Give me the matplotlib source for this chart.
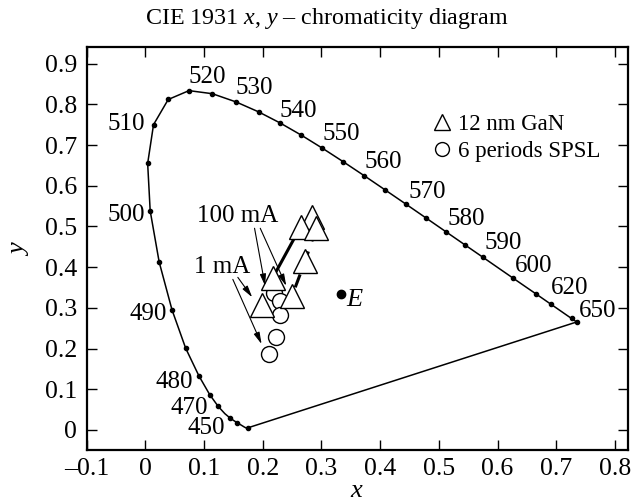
import matplotlib
matplotlib.use("Agg")
import matplotlib.pyplot as plt
from matplotlib.ticker import FuncFormatter, FixedLocator
from matplotlib.lines import Line2D

plt.rcParams['font.family'] = ['Liberation Serif', 'DejaVu Serif']
plt.rcParams['mathtext.fontset'] = 'custom'
plt.rcParams['mathtext.rm'] = 'Liberation Serif'
plt.rcParams['mathtext.it'] = 'Liberation Serif:italic'

# CIE 1931 spectral locus (wavelength nm, x, y)
locus_wl = [380, 400, 420, 430, 440, 445, 450, 455, 460, 465, 470, 475, 480, 485, 490, 495,
            500, 505, 510, 515, 520, 525, 530, 535, 540, 545, 550, 555, 560, 565, 570,
            575, 580, 585, 590, 595, 600, 605, 610, 615, 620, 625, 630, 640, 650, 660,
            680, 700]
locus_x = [0.1741, 0.1733, 0.1714, 0.1689, 0.1644, 0.1611, 0.1566, 0.1510, 0.1440, 0.1355,
           0.1241, 0.1096, 0.0913, 0.0687, 0.0454, 0.0235, 0.0082, 0.0039, 0.0139, 0.0389,
           0.0743, 0.1142, 0.1547, 0.1929, 0.2296, 0.2658, 0.3016, 0.3373, 0.3731, 0.4087,
           0.4441, 0.4788, 0.5125, 0.5448, 0.5752, 0.6029, 0.6270, 0.6482, 0.6658, 0.6801,
           0.6915, 0.7006, 0.7079, 0.7190, 0.7260, 0.7300, 0.7334, 0.7347]
locus_y = [0.0050, 0.0048, 0.0051, 0.0069, 0.0109, 0.0138, 0.0177, 0.0227, 0.0297, 0.0399,
           0.0578, 0.0868, 0.1327, 0.2007, 0.2950, 0.4127, 0.5384, 0.6548, 0.7502, 0.8120,
           0.8338, 0.8262, 0.8059, 0.7816, 0.7543, 0.7243, 0.6923, 0.6589, 0.6245, 0.5896,
           0.5547, 0.5202, 0.4866, 0.4544, 0.4242, 0.3965, 0.3725, 0.3514, 0.3340, 0.3197,
           0.3083, 0.2993, 0.2920, 0.2809, 0.2740, 0.2700, 0.2666, 0.2653]

dot_wl = [380, 450, 460, 470, 475, 480, 485, 490, 495, 500, 505, 510, 515, 520, 525, 530,
          535, 540, 545, 550, 555, 560, 565, 570, 575, 580, 585, 590, 600, 610, 620, 650, 700]

# wavelength labels and their positions
label_wl = ['520', '530', '540', '550', '560', '570', '580', '590', '600', '620', '650',
            '510', '500', '490', '480', '470', '450']
label_x = [0.106, 0.186, 0.261, 0.334, 0.406, 0.480, 0.547, 0.609, 0.661, 0.722, 0.770,
           -0.032, -0.032, 0.004, 0.049, 0.075, 0.104]
label_y = [0.867, 0.840, 0.784, 0.727, 0.658, 0.585, 0.518, 0.459, 0.403, 0.348, 0.292,
           0.752, 0.528, 0.284, 0.119, 0.055, 0.005]

# 12 nm GaN (triangles)
gan_x = [0.2845, 0.2645, 0.291, 0.2725, 0.217, 0.2497, 0.198]
gan_y = [0.523, 0.4995, 0.4955, 0.416, 0.374, 0.329, 0.307]
# 6 periods SPSL (circles)
spsl_x = [0.2184, 0.2287, 0.2287, 0.222, 0.210]
spsl_y = [0.337, 0.318, 0.2826, 0.228, 0.187]

# connecting lines
solid_x = [0.2645, 0.217]
solid_y = [0.4995, 0.374]
dash_x = [0.291, 0.2725, 0.2497]
dash_y = [0.4955, 0.416, 0.329]
dot_x = [0.2287, 0.222]
dot_y = [0.2826, 0.228]

E_x, E_y = 0.3333, 0.3333

fig = plt.figure(figsize=(6.42, 5.01), dpi=100)
ax = fig.add_axes([0.135, 0.102, 0.843, 0.805])

xs = dict(zip(locus_wl, locus_x))
ys = dict(zip(locus_wl, locus_y))
ax.plot(locus_x, locus_y, color='k', lw=1.1, zorder=2)
ax.plot([locus_x[-1], locus_x[0]], [locus_y[-1], locus_y[0]], color='k', lw=1.1, zorder=2)
ax.plot([xs[w] for w in dot_wl], [ys[w] for w in dot_wl], 'o', color='k', ms=3, zorder=3)

for t, x, y in zip(label_wl, label_x, label_y):
    ax.text(x, y, t, fontsize=18, ha='center', va='center')

ax.plot(solid_x, solid_y, color='k', lw=2.2, zorder=3)
ax.plot(dash_x, dash_y, color='k', lw=2.2, dashes=(4.5, 3.5), zorder=3)
ax.plot(dot_x, dot_y, color='k', lw=1.2, linestyle=(0, (1, 10)), zorder=3)

ax.plot(spsl_x, spsl_y, 'o', ms=11.5, mfc='white', mec='k', mew=1.0, ls='none', zorder=4)
ax.plot(gan_x, gan_y, '^', ms=17.5, mfc='white', mec='k', mew=1.0, ls='none', zorder=5)

ax.plot([E_x], [E_y], 'o', color='k', ms=6, zorder=5)
ax.text(E_x + 0.008, E_y - 0.015, '$E$', fontsize=19, ha='left', va='center')

ap = dict(arrowstyle='-|>,head_length=0.7,head_width=0.18', lw=0.8, color='k',
          shrinkA=0, shrinkB=0)
ax.text(0.157, 0.526, '100 mA', fontsize=18, ha='center', va='center')
ax.annotate('', xy=(0.204, 0.354), xytext=(0.186, 0.4956), arrowprops=ap, zorder=6)
ax.annotate('', xy=(0.240, 0.354), xytext=(0.1957, 0.4956), arrowprops=ap, zorder=6)
ax.text(0.13, 0.40, '1 mA', fontsize=18, ha='center', va='center')
ax.annotate('', xy=(0.182, 0.326), xytext=(0.1575, 0.375), arrowprops=ap, zorder=6)
ax.annotate('', xy=(0.198, 0.211), xytext=(0.149, 0.370), arrowprops=ap, zorder=6)

handles = [Line2D([], [], marker='^', ls='none', ms=12, mfc='white', mec='k', mew=1.0),
           Line2D([], [], marker='o', ls='none', ms=10, mfc='white', mec='k', mew=1.0)]
ax.legend(handles, ['12 nm GaN', '6 periods SPSL'], loc='upper left',
          bbox_to_anchor=(0.622, 0.855), frameon=False, fontsize=16.5,
          handlelength=0.8, handletextpad=0.3, labelspacing=0.25, borderaxespad=0)

ax.set_xlim(-0.1, 0.822)
ax.set_ylim(-0.049, 0.942)
ax.xaxis.set_major_locator(FixedLocator([-0.1, 0, 0.1, 0.2, 0.3, 0.4, 0.5, 0.6, 0.7, 0.8]))
ax.yaxis.set_major_locator(FixedLocator([0, 0.1, 0.2, 0.3, 0.4, 0.5, 0.6, 0.7, 0.8, 0.9]))
fmt = FuncFormatter(lambda v, p: ('%g' % round(v, 2)).replace('-', '\u2013'))
ax.xaxis.set_major_formatter(fmt)
ax.yaxis.set_major_formatter(fmt)
ax.tick_params(direction='in', length=7, width=1.0, labelsize=18.5, top=True, right=True,
               pad=6)
ax.tick_params(axis='y', pad=7)
for s in ax.spines.values():
    s.set_linewidth(1.6)

ax.set_xlabel('$x$', fontsize=19, labelpad=0)
ax.set_ylabel('$y$', fontsize=19, labelpad=10)
fig.text(0.509, 0.963, 'CIE 1931 $x$, $y$ \u2013 chromaticity diagram', fontsize=17.3,
         ha='center', va='center')

fig.savefig('out.png', dpi=100)
